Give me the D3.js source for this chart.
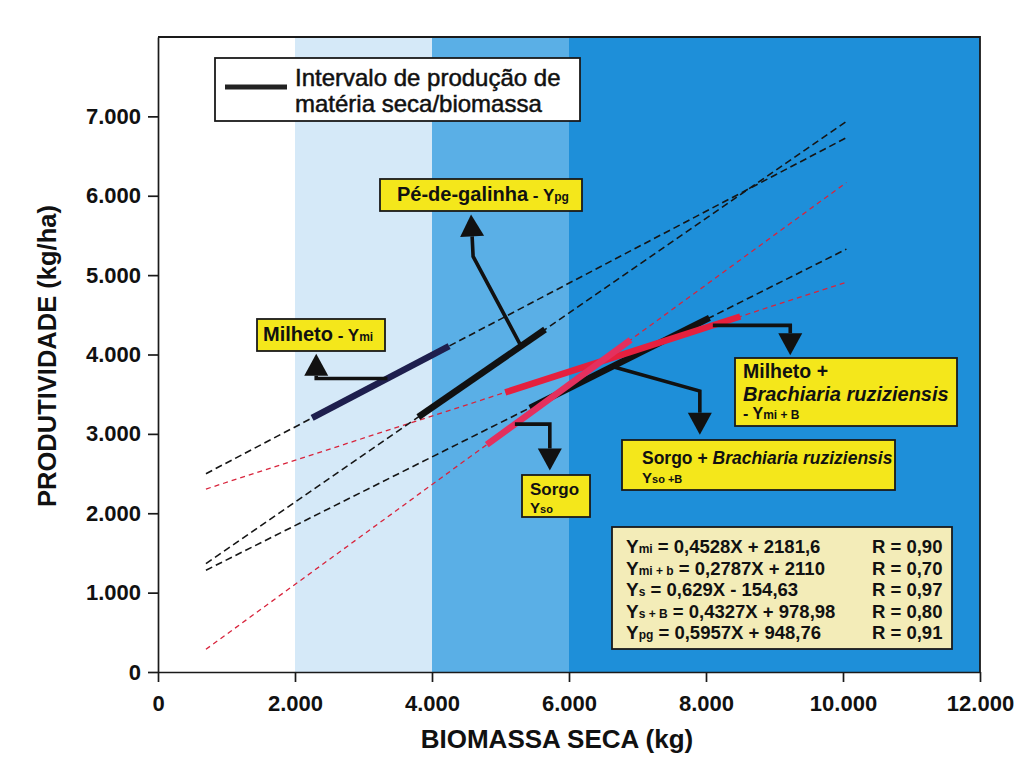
<!DOCTYPE html>
<html>
<head>
<meta charset="utf-8">
<script src="https://cdn.jsdelivr.net/npm/d3@7"></script>
<style>
  html, body { margin: 0; padding: 0; background: #ffffff; }
  svg { display: block; font-family: 'Liberation Sans', Arial, sans-serif; }
</style>
</head>
<body>
<svg id="chart" width="1026" height="770"></svg>
<script>
// ---- Axis ticks ----
const xTicks = [0, 2000, 4000, 6000, 8000, 10000, 12000];
const yTicks = [0, 1000, 2000, 3000, 4000, 5000, 6000, 7000];

// ---- Biomass classes shaded in the background (kg) ----
const bandStarts = [2000, 4000, 6000];
const bandEnds = [4000, 6000, 12000];

// ---- Linear fits: Y = a·X + b ----
const seriesSubs = ["mi", "mi + b", "s", "s + B", "pg"];
const slopes = [0.4528, 0.2787, 0.629, 0.4327, 0.5957];
const intercepts = [2181.6, 2110, -154.63, 978.98, 948.76];
const rValues = ["0,90", "0,70", "0,97", "0,80", "0,91"];

// Extent of the dashed fitted lines (kg of biomass)
const trendFrom = 700;
const trendTo = 10050;

// Observed interval of dry-matter production for each crop (kg)
const intervalFrom = [2250, 5070, 4800, 5430, 3800];
const intervalTo = [4250, 8500, 6900, 8050, 5650];

// ---- Styling ----
const bandFill = ["#d5e9f8", "#5aafe6", "#1e8fd9"];
const dashColor = ["#151515", "#d8243c", "#d8243c", "#151515", "#151515"];
const dashPattern = ["7,4", "5,4", "5,4", "7,4", "7,4"];
const dashWidth = [1.6, 1.3, 1.3, 1.6, 1.6];
const segColor = ["#1e1f4e", "#e5203e", "#e4305e", "#111111", "#111111"];
const segOrder = [3, 4, 0, 1, 2];
const yellow = "#f4e71b";

const svg = d3.select("#chart");
const x = d3.scaleLinear().domain([0, 12000]).range([158, 980]);
const y = d3.scaleLinear().domain([0, 8000]).range([672, 37]);
const fit = (i, v) => slopes[i] * v + intercepts[i];

const numFmt = d3.formatLocale({ decimal: ",", thousands: ".", grouping: [3], currency: ["R$", ""] }).format(",");

// ---- Background bands ----
svg.append("g").selectAll("rect").data(bandStarts).join("rect")
  .attr("x", d => x(d))
  .attr("width", (d, i) => x(bandEnds[i]) - x(d))
  .attr("y", y(8000))
  .attr("height", y(0) - y(8000))
  .attr("fill", (d, i) => bandFill[i]);

// ---- Frame (top and right sides) ----
svg.append("path")
  .attr("d", `M${x(0)},${y(8000)}H${x(12000)}V${y(0)}`)
  .attr("fill", "none").attr("stroke", "#1a1a1a").attr("stroke-width", 1.8);

// ---- Axes ----
const xAxisG = svg.append("g")
  .attr("transform", `translate(0,${y(0)})`)
  .call(d3.axisBottom(x).tickValues(xTicks).tickFormat(numFmt).tickSize(10).tickPadding(13).tickSizeOuter(0));
const yAxisG = svg.append("g")
  .attr("transform", `translate(${x(0)},0)`)
  .call(d3.axisLeft(y).tickValues(yTicks).tickFormat(numFmt).tickSize(10).tickPadding(7).tickSizeOuter(0));

[xAxisG, yAxisG].forEach(a => {
  a.attr("font-size", null).attr("font-family", null);
  a.selectAll(".domain, .tick line").attr("stroke", "#1a1a1a").attr("stroke-width", 1.7);
  a.selectAll(".tick text")
    .style("font-family", "'Liberation Sans', Arial, sans-serif")
    .style("font-size", "22px").style("font-weight", "bold").attr("fill", "#111");
});

// Axis titles
svg.append("text")
  .attr("x", 557).attr("y", 748)
  .attr("text-anchor", "middle")
  .attr("font-size", 26).attr("font-weight", "bold").attr("fill", "#111")
  .text("BIOMASSA SECA (kg)");
svg.append("text")
  .attr("transform", "translate(56,356) rotate(-90)")
  .attr("text-anchor", "middle")
  .attr("font-size", 25.5).attr("font-weight", "bold").attr("fill", "#111")
  .text("PRODUTIVIDADE (kg/ha)");

// ---- Dashed fitted lines ----
const idx = d3.range(slopes.length);
const line = d3.line().x(d => x(d[0])).y(d => y(d[1]));
svg.append("g").selectAll("path").data(idx).join("path")
  .attr("d", i => line([[trendFrom, fit(i, trendFrom)], [trendTo, fit(i, trendTo)]]))
  .attr("fill", "none")
  .attr("stroke", i => dashColor[i])
  .attr("stroke-width", i => dashWidth[i])
  .attr("stroke-dasharray", i => dashPattern[i]);

// ---- Solid production intervals ----
svg.append("g").selectAll("path").data(segOrder).join("path")
  .attr("d", i => line([[intervalFrom[i], fit(i, intervalFrom[i])], [intervalTo[i], fit(i, intervalTo[i])]]))
  .attr("fill", "none")
  .attr("stroke", i => segColor[i])
  .attr("stroke-width", 6.5);

// ---- Arrows from each interval to its label (data units) ----
const arrows = [
  { s: 0, x0: 3350, pts: [[2310, null], [2310, 4010]] },
  { s: 4, x0: 5300, pts: [[4600, 5236], [4570, 5765]] },
  { s: 1, x0: 8100, pts: [[9230, null], [9230, 3990]] },
  { s: 3, x0: 6630, pts: [[7910, 3540], [7910, 2990]] },
  { s: 2, x0: 5210, pts: [[5720, null], [5720, 2540]] }
];
const arrowG = svg.append("g");
arrows.forEach(a => {
  const pts = [[a.x0, fit(a.s, a.x0)]];
  a.pts.forEach(p => pts.push([p[0], p[1] === null ? pts[pts.length - 1][1] : p[1]]));
  const px = pts.map(p => [x(p[0]), y(p[1])]);
  const tip = px[px.length - 1], prev = px[px.length - 2];
  const dx = tip[0] - prev[0], dy = tip[1] - prev[1];
  const len = Math.hypot(dx, dy);
  const ux = dx / len, uy = dy / len;
  const headLen = 22, halfW = 12;
  const base = [tip[0] - ux * headLen, tip[1] - uy * headLen];
  const shaft = px.slice(0, -1).concat([base]);
  arrowG.append("path")
    .attr("d", d3.line()(shaft))
    .attr("fill", "none").attr("stroke", "#111").attr("stroke-width", 3.6)
    .attr("stroke-linejoin", "miter");
  arrowG.append("path")
    .attr("d", `M${tip[0]},${tip[1]}L${base[0] - uy * halfW},${base[1] + ux * halfW}L${base[0] + uy * halfW},${base[1] - ux * halfW}Z`)
    .attr("fill", "#111");
});

// ---- Label boxes ----
function box(bx, by, bw, bh, fill) {
  svg.append("rect")
    .attr("x", bx).attr("y", by).attr("width", bw).attr("height", bh)
    .attr("fill", fill).attr("stroke", "#1a1a1a").attr("stroke-width", 1.8);
}
// parts: [text, size, italic]
function rich(tx, ty, parts, weight) {
  const t = svg.append("text").attr("x", tx).attr("y", ty)
    .attr("font-weight", weight || "bold").attr("fill", "#111");
  parts.forEach(p => {
    t.append("tspan")
      .attr("font-size", p[1])
      .attr("font-style", p[2] ? "italic" : "normal")
      .text(p[0]);
  });
  return t;
}

// Legend
box(215, 58, 365, 63, "#ffffff");
svg.append("line").attr("x1", 225).attr("x2", 287).attr("y1", 87).attr("y2", 87)
  .attr("stroke", "#222").attr("stroke-width", 5);
rich(295, 86, [["Intervalo de produção de", 24]], "normal").attr("stroke", "#111").attr("stroke-width", 0.5);
rich(295, 112, [["matéria seca/biomassa", 24]], "normal").attr("stroke", "#111").attr("stroke-width", 0.5);

// Pé-de-galinha
box(380, 179, 202, 32, yellow);
rich(397, 201, [["Pé-de-galinha", 20], [" - Y", 17], ["pg", 12]]);

// Milheto
box(257, 319, 128, 32, yellow);
rich(263, 341, [["Milheto", 20], [" - Y", 17], ["mi", 12]]);

// Milheto + Brachiaria
box(735, 358, 222, 68, yellow);
rich(743, 378, [["Milheto +", 19.5]]);
rich(743, 401, [["Brachiaria ruziziensis", 20, true]]);
rich(743, 419, [["- Y", 16], ["mi + B", 12]]);

// Sorgo + Brachiaria
box(622, 440, 273, 50, yellow);
rich(642, 464, [["Sorgo + ", 17.5], ["Brachiaria ruziziensis", 17.5, true]]);
rich(642, 483, [["Y", 15], ["so +B", 11]]);

// Sorgo
box(522, 475, 68, 42, yellow);
rich(530, 495, [["Sorgo", 17]]);
rich(530, 513, [["Y", 15], ["so", 11]]);

// ---- Equation table ----
box(612, 527, 340, 122, "#f3ecb8");
const dec = v => String(v).replace(".", ",");
idx.forEach(i => {
  const b = intercepts[i];
  const eq = ` = ${dec(slopes[i])}X ${b < 0 ? "-" : "+"} ${dec(Math.abs(b))}`;
  const ty = 553 + i * 21.6;
  rich(626, ty, [["Y", 19], [seriesSubs[i], 12], [eq, 18.5]]);
  rich(872, ty, [[`R = ${rValues[i]}`, 18.5]]);
});
</script>
</body>
</html>
